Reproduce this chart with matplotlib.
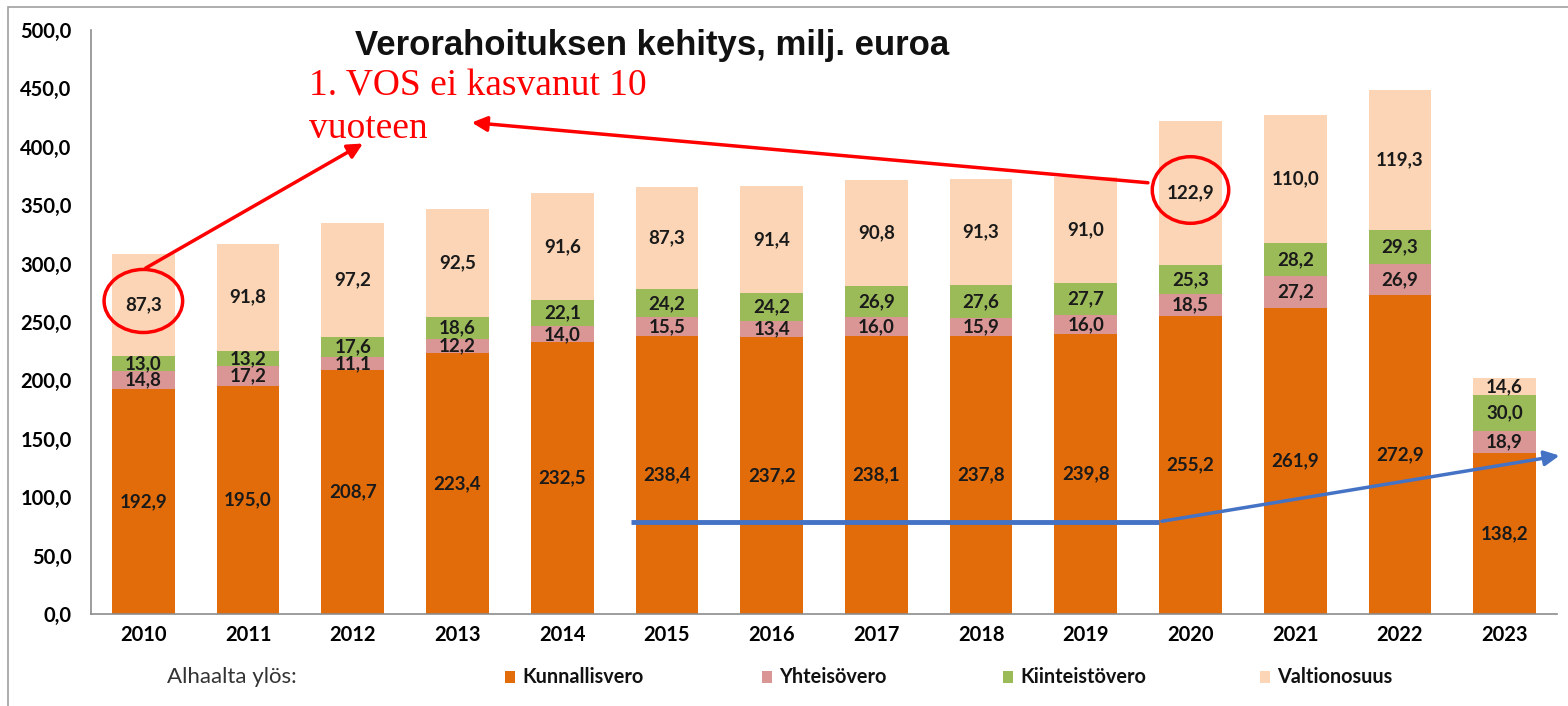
import matplotlib
matplotlib.use("Agg")
import matplotlib.pyplot as plt
from matplotlib.patches import Ellipse, Rectangle
import numpy as np

years = ["2010", "2011", "2012", "2013", "2014", "2015", "2016", "2017", "2018", "2019", "2020", "2021", "2022", "2023"]
kunnallisvero = [192.9, 195.0, 208.7, 223.4, 232.5, 238.4, 237.2, 238.1, 237.8, 239.8, 255.2, 261.9, 272.9, 138.2]
yhteisovero = [14.8, 17.2, 11.1, 12.2, 14.0, 15.5, 13.4, 16.0, 15.9, 16.0, 18.5, 27.2, 26.9, 18.9]
kiinteistovero = [13.0, 13.2, 17.6, 18.6, 22.1, 24.2, 24.2, 26.9, 27.6, 27.7, 25.3, 28.2, 29.3, 30.0]
valtionosuus = [87.3, 91.8, 97.2, 92.5, 91.6, 87.3, 91.4, 90.8, 91.3, 91.0, 122.9, 110.0, 119.3, 14.6]
series_names = ["Kunnallisvero", "Yhteisövero", "Kiinteistövero", "Valtionosuus"]
colors = ["#E36C0A", "#D99694", "#9BBB59", "#FBD5B5"]
title = "Verorahoituksen kehitys, milj. euroa"
note_lines = ["1. VOS ei kasvanut 10", "vuoteen"]
yticks = np.arange(0, 501, 50)

LBL = "Lato"
W, H = 1568, 706

fig = plt.figure(figsize=(15.68, 7.06), dpi=100)
fig.patch.set_facecolor("white")
ax = fig.add_axes([91/W, 1-614/H, (1557-91)/W, (614-30)/H])

x = np.arange(len(years))
bottom = np.zeros(len(years))
for vals, c in zip([kunnallisvero, yhteisovero, kiinteistovero, valtionosuus], colors):
    vals = np.array(vals)
    ax.bar(x, vals, width=0.6, bottom=bottom, color=c, edgecolor="none", zorder=2)
    for xi, b, v in zip(x, bottom, vals):
        ax.text(xi, b + v/2, f"{v:.1f}".replace(".", ","), ha="center", va="center",
                fontsize=13.5, fontweight="bold", family=LBL, color="#1a1a1a", zorder=3)
    bottom = bottom + vals

ax.set_xlim(-0.5, 13.5)
ax.set_ylim(0, 500)
ax.set_yticks(yticks)
ax.set_yticklabels([f"{v:.1f}".replace(".", ",") for v in yticks], fontsize=14.5, fontweight="bold", family=LBL)
ax.set_xticks(x)
ax.set_xticklabels(years, fontsize=14.5, fontweight="bold", family=LBL)
ax.tick_params(axis="both", length=0)
ax.tick_params(axis="y", pad=14)
ax.tick_params(axis="x", pad=8)
for s in ["top", "right"]:
    ax.spines[s].set_visible(False)
for s in ["left", "bottom"]:
    ax.spines[s].set_color("#8c8c8c")
    ax.spines[s].set_linewidth(1.2)

# title
fig.text(652/W, 1-45/H, title, ha="center", va="center", fontsize=25,
         fontweight="bold", family="Liberation Sans", color="#111111")

# red annotation text
for line, base in zip(note_lines, [95, 138]):
    fig.text(309/W, 1-base/H, line, ha="left", va="baseline", fontsize=27,
             family="Liberation Serif", color="#FF0000")

# red ellipses
ax.add_patch(Ellipse((0, 268), 0.75, 54, fill=False, edgecolor="#FF0000", lw=2.5, zorder=4, clip_on=False))
ax.add_patch(Ellipse((10, 363), 0.73, 57, fill=False, edgecolor="#FF0000", lw=2.5, zorder=4, clip_on=False))

# red arrows
ax.annotate("", xy=(2.12, 404), xytext=(0, 295),
            arrowprops=dict(arrowstyle="-|>,head_length=0.9,head_width=0.45", color="#FF0000", lw=2.5),
            zorder=5, annotation_clip=False)
ax.annotate("", xy=(3.11, 421), xytext=(9.62, 369),
            arrowprops=dict(arrowstyle="-|>,head_length=0.9,head_width=0.45", color="#FF0000", lw=2.5),
            zorder=5, annotation_clip=False)

# blue line + arrow
ax.plot([4.66, 9.70], [79, 79], color="#4472C4", lw=3.5, zorder=5, solid_capstyle="butt")
ax.annotate("", xy=(13.55, 136), xytext=(9.70, 79),
            arrowprops=dict(arrowstyle="-|>,head_length=0.9,head_width=0.45", color="#4472C4", lw=2.5),
            zorder=5, annotation_clip=False)

# legend (manual layout)
fig.text(167/W, 1-677/H, "Alhaalta ylös:", ha="left", va="center", fontsize=16,
         family=LBL, color="#333333")
legend_x = [505, 762, 1003, 1260]
for lx, name, c in zip(legend_x, series_names, colors):
    fig.add_artist(Rectangle((lx/W, 1-683/H), 10/W, 12/H, transform=fig.transFigure,
                             facecolor=c, edgecolor="none"))
    fig.text((lx+17)/W, 1-677/H, name, ha="left", va="center", fontsize=14.3,
             fontweight="bold", family=LBL, color="#111111")

# outer frame
fig.add_artist(Rectangle((8/W, -0.01), 1.0, 1-7/H+0.01, transform=fig.transFigure,
                         fill=False, edgecolor="#a0a0a0", lw=1.2))

fig.savefig("out.png", dpi=100, facecolor="white")
